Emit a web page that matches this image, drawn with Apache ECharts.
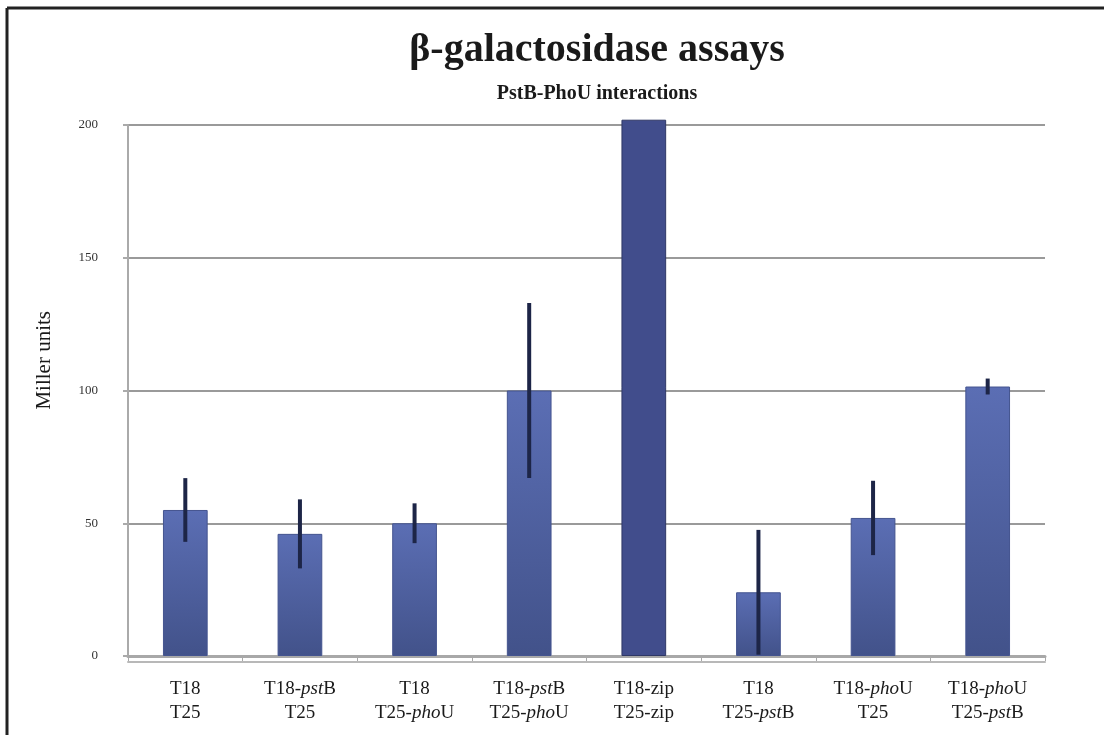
<!DOCTYPE html>
<html>
<head>
<meta charset="utf-8">
<script src="https://cdn.jsdelivr.net/npm/echarts@6/dist/echarts.min.js"></script>
<style>
html,body{margin:0;padding:0;background:#fff;}
#chart{width:1104px;height:735px;}
</style>
</head>
<body>
<div id="chart"></div>
<script>
// ---- data ----
const categories = [
  "T18\nT25",
  "T18-{i|pst}B\nT25",
  "T18\nT25-{i|pho}U",
  "T18-{i|pst}B\nT25-{i|pho}U",
  "T18-zip\nT25-zip",
  "T18\nT25-{i|pst}B",
  "T18-{i|pho}U\nT25",
  "T18-{i|pho}U\nT25-{i|pst}B"
];
const values = [55, 46, 50, 100, 202, 24, 52, 101.5];
const errors = [12, 13, 7.5, 33, 0, 23.5, 14, 3];
const yTicks = [0, 50, 100, 150, 200];
const titleText = "β-galactosidase assays";
const subtitleText = "PstB-PhoU interactions";
const yName = "Miller units";

const chart = echarts.init(document.getElementById('chart'));
const serif = "'Liberation Serif', 'DejaVu Serif', serif";

const normalFill = new echarts.graphic.LinearGradient(0, 0, 0, 1, [
  {offset: 0, color: '#5b6eb4'},
  {offset: 1, color: '#42528a'}
]);
const darkFill = '#414d8c';

const barData = values.map((v, i) => ({
  value: v,
  itemStyle: i === 4
    ? {color: darkFill, borderColor: '#2f3866', borderWidth: 1}
    : {color: normalFill, borderColor: '#44548f', borderWidth: 1}
}));

const errData = values.map((v, i) => [i, v - errors[i], v + errors[i]]);

const option = {
  backgroundColor: '#fff',
  animation: false,
  title: [
    {text: titleText, left: 592, top: 26, textAlign: 'center',
     textStyle: {fontFamily: serif, fontWeight: 'bold', fontSize: 40, color: '#1a1a1a'}},
    {text: subtitleText, left: 592, top: 79, textAlign: 'center',
     textStyle: {fontFamily: serif, fontWeight: 'bold', fontSize: 20, color: '#1a1a1a'}}
  ],
  grid: {left: 128, right: 59, top: 125, bottom: 79},
  xAxis: [{
    type: 'category',
    data: categories,
    axisLine: {lineStyle: {color: '#a8a8a8', width: 3}},
    axisTick: {show: true, length: 5, lineStyle: {color: '#a8a8a8', width: 1}},
    axisLabel: {
      fontFamily: serif, fontSize: 19, color: '#1a1a1a', margin: 21, lineHeight: 24,
      interval: 0,
      rich: {i: {fontFamily: serif, fontStyle: 'italic', fontSize: 19, color: '#1a1a1a'}}
    }
  }, {
    type: 'category',
    data: categories,
    position: 'bottom',
    offset: 6,
    axisLine: {lineStyle: {color: '#b8b8b8', width: 2}},
    axisTick: {show: false},
    axisLabel: {show: false}
  }],
  yAxis: {
    type: 'value',
    min: 0, max: 200, interval: 50,
    axisLine: {show: true, lineStyle: {color: '#aaaaaa', width: 2}},
    axisTick: {show: true, length: 5, lineStyle: {color: '#aaaaaa', width: 2}},
    axisLabel: {fontFamily: serif, fontSize: 13, color: '#333', margin: 30,
      formatter: v => yTicks.includes(v) ? String(v) : ''},
    splitLine: {lineStyle: {color: '#9a9a9a', width: 2}}
  },
  graphic: [
    {type: 'text', left: 34, top: 311, rotation: Math.PI / 2,
     style: {text: yName, fontFamily: serif, fontSize: 21, fill: '#1a1a1a'}},
    {type: 'line', shape: {x1: 7, y1: 8, x2: 1104, y2: 8}, style: {stroke: '#222', lineWidth: 3}},
    {type: 'line', shape: {x1: 7, y1: 8, x2: 7, y2: 735}, style: {stroke: '#222', lineWidth: 3}}
  ],
  series: [{
    type: 'bar',
    data: barData,
    barWidth: '39%',
    clip: false
  }, {
    type: 'custom',
    data: errData,
    clip: false,
    z: 10,
    renderItem: function (params, api) {
      const lo = api.coord([api.value(0), api.value(1)]);
      const hi = api.coord([api.value(0), api.value(2)]);
      if (Math.abs(hi[1] - lo[1]) < 0.5) return null;
      return {
        type: 'line',
        shape: {x1: lo[0], y1: lo[1], x2: hi[0], y2: hi[1]},
        style: {stroke: '#1d2547', lineWidth: 4}
      };
    }
  }]
};
chart.setOption(option);
</script>
</body>
</html>
